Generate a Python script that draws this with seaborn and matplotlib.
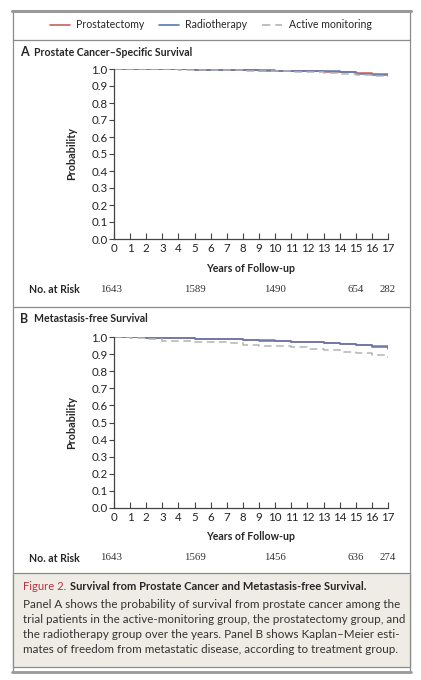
import matplotlib
matplotlib.use("Agg")
import matplotlib.pyplot as plt
from matplotlib.patches import Rectangle
from matplotlib.lines import Line2D
import seaborn as sns
import pandas as pd

# Kaplan-Meier estimates, one value per year of follow-up
years = list(range(18))
groups = ["Prostatectomy", "Radiotherapy", "Active monitoring"]

cancer_prostatectomy = [1.0, 1.0, 1.0, 0.999, 0.998, 0.997, 0.996, 0.995, 0.993,
                        0.991, 0.990, 0.989, 0.987, 0.985, 0.980, 0.975, 0.972, 0.971]
cancer_radiotherapy = [1.0, 1.0, 1.0, 0.999, 0.998, 0.997, 0.996, 0.995, 0.994,
                       0.992, 0.991, 0.990, 0.989, 0.987, 0.982, 0.968, 0.963, 0.962]
cancer_active = [1.0, 1.0, 0.999, 0.998, 0.996, 0.995, 0.994, 0.993, 0.991,
                 0.990, 0.988, 0.985, 0.983, 0.978, 0.972, 0.962, 0.958, 0.955]

meta_prostatectomy = [1.0, 0.998, 0.996, 0.994, 0.992, 0.990, 0.988, 0.986, 0.983,
                      0.980, 0.977, 0.973, 0.969, 0.965, 0.960, 0.955, 0.945, 0.935]
meta_radiotherapy = [1.0, 0.998, 0.996, 0.994, 0.992, 0.990, 0.988, 0.986, 0.983,
                     0.979, 0.976, 0.972, 0.968, 0.963, 0.958, 0.952, 0.942, 0.932]
meta_active = [1.0, 0.995, 0.988, 0.977, 0.974, 0.972, 0.970, 0.962, 0.953,
               0.950, 0.945, 0.940, 0.932, 0.922, 0.912, 0.906, 0.895, 0.875]

risk_years = [0, 5, 10, 15, 17]
risk_a = [1643, 1589, 1490, 654, 282]
risk_b = [1643, 1569, 1456, 636, 274]

yticks = [0.0, 0.1, 0.2, 0.3, 0.4, 0.5, 0.6, 0.7, 0.8, 0.9, 1.0]

colors = {"Prostatectomy": "#c4625b", "Radiotherapy": "#5b78b0",
          "Active monitoring": "#b4b4b4"}
dashes = {"Prostatectomy": "", "Radiotherapy": "", "Active monitoring": (5, 3)}

sns.set_style("white")
plt.rcParams["font.family"] = ["Lato", "DejaVu Sans"]

W, H = 421, 680
fig = plt.figure(figsize=(W / 100, H / 100), dpi=100)


def fx(px):
    return px / W


def fy(py):
    return 1 - py / H


def make_df(p, r, a):
    rows = []
    for name, vals in zip(groups, [p, r, a]):
        for yr, v in zip(years, vals):
            rows.append({"year": yr, "prob": v, "group": name})
    return pd.DataFrame(rows)


# frame: top rule, outer box, separators, caption box
fig.add_artist(Rectangle((fx(13), fy(672)), fx(397), fy(11) - fy(672),
                         transform=fig.transFigure, fill=False,
                         edgecolor="#8c8c8c", lw=0.9))
fig.add_artist(Line2D([fx(12), fx(411)], [fy(11), fy(11)], transform=fig.transFigure,
                      color="#9a9a9a", lw=2.2))
fig.add_artist(Line2D([fx(12), fx(411)], [fy(672), fy(672)], transform=fig.transFigure,
                      color="#9a9a9a", lw=2.0))
for ypx in [40, 307]:
    fig.add_artist(Line2D([fx(13), fx(410)], [fy(ypx), fy(ypx)], transform=fig.transFigure,
                          color="#8c8c8c", lw=0.9))
fig.add_artist(Rectangle((fx(13), fy(667)), fx(397), fy(573) - fy(667),
                         transform=fig.transFigure, facecolor="#efece6",
                         edgecolor="#8c8c8c", lw=0.9))

panels = [
    ("A", "Prostate Cancer\u2013Specific Survival", 52, 69, 239, 289,
     make_df(cancer_prostatectomy, cancer_radiotherapy, cancer_active), risk_a),
    ("B", "Metastasis-free Survival", 319, 337, 508, 558,
     make_df(meta_prostatectomy, meta_radiotherapy, meta_active), risk_b),
]

for letter, title, ty, top, bot, risk_y, df, risk in panels:
    ax = fig.add_axes([fx(114), fy(bot), fx(388) - fx(114), fy(top) - fy(bot)])
    sns.lineplot(data=df, x="year", y="prob", hue="group", style="group",
                 palette=colors, dashes=dashes, drawstyle="steps-post",
                 lw=1.1, ax=ax, legend=False)
    ax.set_xlim(0, 17)
    ax.set_ylim(0, 1.0)
    ax.set_xticks(years)
    ax.set_yticks(yticks)
    ax.set_yticklabels([f"{t:.1f}" for t in yticks])
    ax.tick_params(axis="x", bottom=True, direction="in", length=4, width=0.8,
                   colors="#444444", labelcolor="#222222", labelsize=8.3, pad=3)
    ax.tick_params(axis="y", left=True, direction="out", length=3.5, width=0.8,
                   colors="#444444", labelcolor="#222222", labelsize=8.3, pad=1)
    for s in ["top", "right"]:
        ax.spines[s].set_visible(False)
    for s in ["left", "bottom"]:
        ax.spines[s].set_color("#444444")
        ax.spines[s].set_linewidth(0.9)
    ax.set_facecolor("none")
    ax.set_xlabel("Years of Follow-up", fontsize=7.6, fontweight="bold", labelpad=6)
    ax.set_ylabel("Probability", fontsize=7.8, fontweight="bold", labelpad=10)

    fig.text(fx(20), fy(ty), letter, fontsize=9, fontweight="bold", va="center")
    fig.text(fx(34), fy(ty), title, fontsize=7.6, fontweight="bold", va="center")
    fig.text(fx(29), fy(risk_y), "No. at Risk", fontsize=7.6, fontweight="bold",
             va="center")
    trans = matplotlib.transforms.blended_transform_factory(ax.transData, fig.transFigure)
    for yr, n in zip(risk_years, risk):
        ax.text(yr - 0.2 if yr == 0 else yr, fy(risk_y), str(n), transform=trans,
                ha="center", va="center", fontsize=7.8, family=["Liberation Serif"],
                color="#333333")

# legend on top
handles = [Line2D([], [], color=colors[g], lw=1.2,
                  ls=(0, dashes[g]) if dashes[g] else "-") for g in groups]
fig.legend(handles, groups, loc="center", bbox_to_anchor=(0.5, fy(25)), ncol=3,
           frameon=False, fontsize=7.6, handlelength=1.9, columnspacing=1.4,
           handletextpad=0.6)

# caption
fig.text(fx(23), fy(587), "Figure 2.", fontsize=8.1, color="#b8323f", va="center")
fig.text(fx(70), fy(587), "Survival from Prostate Cancer and Metastasis-free Survival.",
         fontsize=8.05, fontweight="bold", va="center")
caption = ["Panel A shows the probability of survival from prostate cancer among the",
           "trial patients in the active-monitoring group, the prostatectomy group, and",
           "the radiotherapy group over the years. Panel B shows Kaplan\u2013Meier esti-",
           "mates of freedom from metastatic disease, according to treatment group."]
for i, line in enumerate(caption):
    fig.text(fx(23), fy(605 + 14.7 * i), line, fontsize=8.4, color="#333333", va="center")

fig.savefig("out.png", dpi=100)
